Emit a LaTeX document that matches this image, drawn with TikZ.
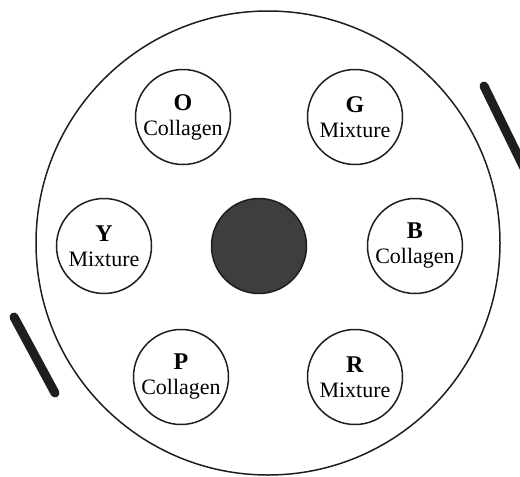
\documentclass[tikz,border=0pt]{standalone}
\usepackage{fontspec}
\setmainfont{Liberation Serif}
\usepackage{xcolor}
\definecolor{inkgrey}{RGB}{30,30,30}
\definecolor{coregrey}{RGB}{62,62,62}

\tikzset{
  well/.style={draw=inkgrey,circle,line width=1.5pt,minimum size=95pt,
    inner sep=0pt,align=center,font=\fontsize{22}{25}\selectfont},
  bar/.style={line width=9pt,line cap=round,draw=inkgrey}
}
\newcommand{\welltag}[1]{{\fontsize{24}{25}\selectfont\textbf{#1}}}

\begin{document}
\begin{tikzpicture}[x=1pt,y=-1pt]
    \useasboundingbox (0,0) rectangle (520,477);
    \node[circle,draw=inkgrey,line width=1.5pt,minimum size=464pt] (dish) at (268,243) {};
    \node[well] (o) at (183,117) {\welltag{O}\\Collagen};
    \node[well] (g) at (355,117) {\welltag{G}\\Mixture};
    \node[well] (y) at (104,246) {\welltag{Y}\\Mixture};
    \node[well] (b) at (415,246) {\welltag{B}\\Collagen};
    \node[well] (p) at (181,377) {\welltag{P}\\Collagen};
    \node[well] (r) at (355,377) {\welltag{R}\\Mixture};
    \node[circle,draw=inkgrey,line width=1.5pt,fill=coregrey,minimum size=95pt] (core) at (259,246) {};
    % marks outside the dish
    \begin{scope}
      \clip (0,0) rectangle (520,477);
      \draw[bar] (484,86) -- (526,172);
      \draw[bar] (14,317) -- (55,393);
    \end{scope}
\end{tikzpicture}
\end{document}
